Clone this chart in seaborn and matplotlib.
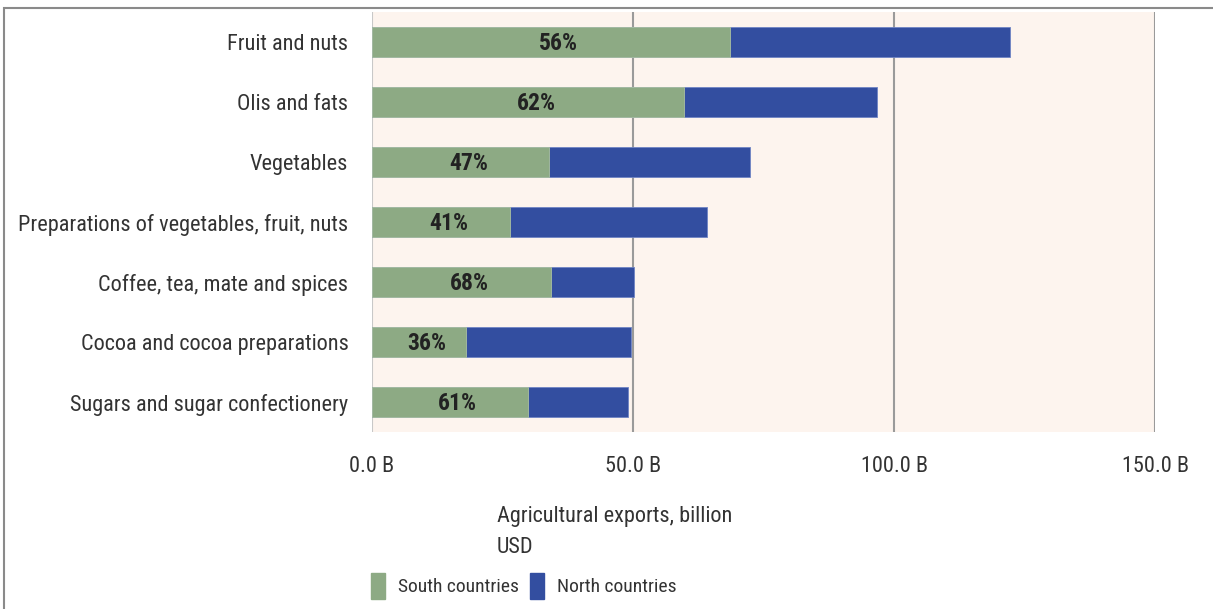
import matplotlib
matplotlib.use("Agg")
import matplotlib.pyplot as plt
from matplotlib import font_manager
from matplotlib.patches import Rectangle
import seaborn as sns
import pandas as pd

categories = [
    "Fruit and nuts",
    "Olis and fats",
    "Vegetables",
    "Preparations of vegetables, fruit, nuts",
    "Coffee, tea, mate and spices",
    "Cocoa and cocoa preparations",
    "Sugars and sugar confectionery",
]
south = [68.6, 59.8, 34.0, 26.5, 34.3, 18.0, 29.9]
total = [122.3, 96.8, 72.5, 64.2, 50.2, 49.7, 49.1]
series_names = ["South countries", "North countries"]
x_ticks = [0, 50, 100, 150]
x_tick_labels = ["0.0 B", "50.0 B", "100.0 B", "150.0 B"]

GREEN = "#8daa84"
BLUE = "#334ea0"
TEXT = "#333333"

sns.set_theme(style="white")
installed = {f.name for f in font_manager.fontManager.ttflist}
family = [f for f in ["Liberation Sans Narrow", "Roboto Condensed", "DejaVu Sans Condensed", "Liberation Sans"] if f in installed]
plt.rcParams["font.family"] = family + ["DejaVu Sans"]

df = pd.DataFrame({"category": categories, "south": south, "total": total})

fig = plt.figure(figsize=(12.13, 6.09), dpi=100)
ax = fig.add_axes([372 / 1213, 1 - 432 / 609, (1155 - 372) / 1213, 420 / 609])
ax.set_facecolor("#fdf4ee")

sns.barplot(data=df, y="category", x="total", color=BLUE, width=0.49,
            saturation=1, ax=ax, edgecolor="#6f84c4", linewidth=0.6, zorder=3)
sns.barplot(data=df, y="category", x="south", color=GREEN, width=0.49,
            saturation=1, ax=ax, edgecolor="#a9bfa2", linewidth=0.6, zorder=4)

for i, (s, t) in enumerate(zip(south, total)):
    ax.text(s / 2 + 1.5, i + 0.03, f"{round(100 * s / t)}%", ha="center", va="center",
            fontsize=17, fontweight="bold", color="#222222", zorder=5)

ax.set_xlim(0, 150)
ax.set_ylim(6.5, -0.5)
ax.set_xticks(x_ticks)
ax.set_xticklabels(x_tick_labels, fontsize=16, color=TEXT)
ax.tick_params(axis="x", length=0, pad=17)
ax.tick_params(axis="y", length=0, pad=17, labelsize=16, labelcolor=TEXT)
ax.set_xlabel("")
ax.set_ylabel("")
for sp in ax.spines.values():
    sp.set_visible(False)
for xv in x_ticks:
    ax.axvline(xv, color="#9a9a9a" if xv else "#c8c8c8", lw=1.5, zorder=2)

fig.text(497 / 1213, 1 - 532 / 609, "Agricultural exports, billion\nUSD",
         ha="left", va="center", fontsize=16, color=TEXT, linespacing=1.65)

# legend
fig.patches.append(Rectangle((371 / 1213, 1 - 599 / 609), 14 / 1213, 26 / 609,
                             transform=fig.transFigure, color=GREEN))
fig.text(398 / 1213, 1 - 587 / 609, series_names[0], ha="left", va="center",
         fontsize=14, color=TEXT)
fig.patches.append(Rectangle((530 / 1213, 1 - 599 / 609), 14 / 1213, 26 / 609,
                             transform=fig.transFigure, color=BLUE))
fig.text(557 / 1213, 1 - 587 / 609, series_names[1], ha="left", va="center",
         fontsize=14, color=TEXT)

# outer frame
fig.patches.append(Rectangle((4 / 1213, -0.05), 1.1, 1 - 8 / 609 + 0.05,
                             transform=fig.transFigure, fill=False,
                             edgecolor="#8a8a8a", lw=1.5))

fig.savefig("out.png", dpi=100)
